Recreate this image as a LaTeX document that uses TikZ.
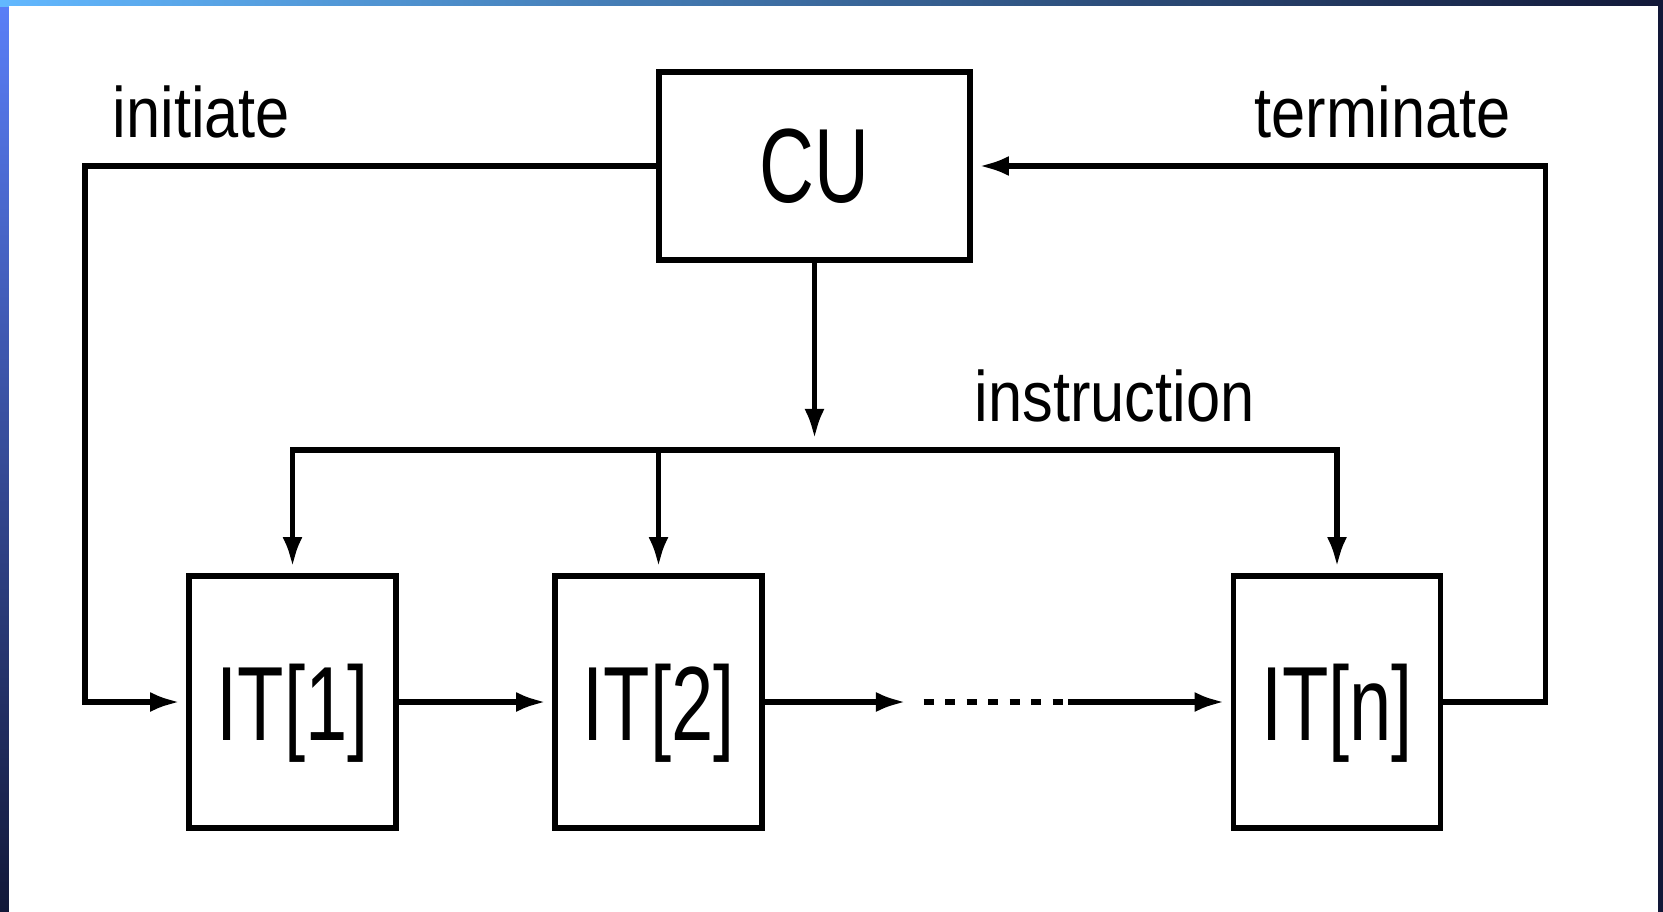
\documentclass[tikz,border=0pt]{standalone}
\usepackage{fontspec}
\setmainfont{Liberation Sans}
\newfontfamily\boxfont[FakeStretch=0.72]{Liberation Sans}
\newfontfamily\lblfont[FakeStretch=0.86]{Liberation Sans}
\usepackage{tikz}
\usetikzlibrary{arrows.meta,calc}
\definecolor{edgeblue}{HTML}{5A7FF8}
\definecolor{edgesky}{HTML}{62B8FF}
\definecolor{edgenavy}{HTML}{121838}
\tikzset{
  box/.style={draw, line width=1.6pt, fill=white, inner sep=0pt, text depth=0pt, font=\boxfont\fontsize{30}{36}\selectfont},
  unit/.style={box, minimum width=2.07cm, minimum height=2.52cm},
  lbl/.style={inner sep=0pt, anchor=base west, font=\lblfont\fontsize{20.3}{24}\selectfont},
  wire/.style={line width=1.6pt},
  flow/.style={wire, -{Latex[length=3mm,width=2mm]}, shorten >=0.6mm},
  dotrun/.style={wire, dash pattern=on 1mm off 1.15mm, dash phase=1mm},
}

\begin{document}
\begin{tikzpicture}[x=0.01cm,y=-0.01cm]
  % frame
  \useasboundingbox (0,0) rectangle (1663,912);
  \shade[top color=edgeblue, bottom color=edgenavy] (0,0) rectangle (9,912);
  \shade[left color=edgesky, middle color=edgeblue!80!edgenavy, right color=edgenavy] (0,0) rectangle (1663,6);
  \fill[edgenavy] (1658,0) rectangle (1663,912);
  \fill[white] (9,6) rectangle (1658,912);

  \node[box, minimum width=3.11cm, minimum height=1.88cm] (cu) at (814.5,166) {CU};
  \foreach \x/\name/\idx in {292.5/it1/1, 658.5/it2/2, 1337/itn/n}
    \node[unit] (\name) at (\x,702) {IT[\idx]};

  \node[lbl] (initiate) at (112,137) {initiate};
  \node[lbl] (terminate) at (1254,137) {terminate};
  \node[lbl] (instruction) at (974,421) {instruction};

  \coordinate (lcorner) at (85,166);
  \coordinate (rcorner) at (1545.5,166);
  \coordinate (bus) at (814.5,450);
  \coordinate (dotA) at (912,702);
  \coordinate (dotB) at (1068,702);

  % initiate / terminate loop
  \draw[flow] (cu.west) -- (lcorner) |- (it1.west);
  \draw[flow] (itn.east) -| (rcorner) -- (cu.east);
  % chain of units
  \draw[flow] (it1.east) -- (it2.west);
  \draw[flow] (it2.east) -- (dotA);
  \draw[dotrun] (dotA) -- (dotB);
  \draw[flow] (dotB) -- (itn.west);
  % instruction bus
  \draw[flow, shorten >=1.1mm] (cu.south) -- (bus);
  \draw[flow] (bus) -| (it1.north);
  \draw[flow] (bus) -| (itn.north);
  \draw[flow] (bus -| it2.north) -- (it2.north);
\end{tikzpicture}
\end{document}
